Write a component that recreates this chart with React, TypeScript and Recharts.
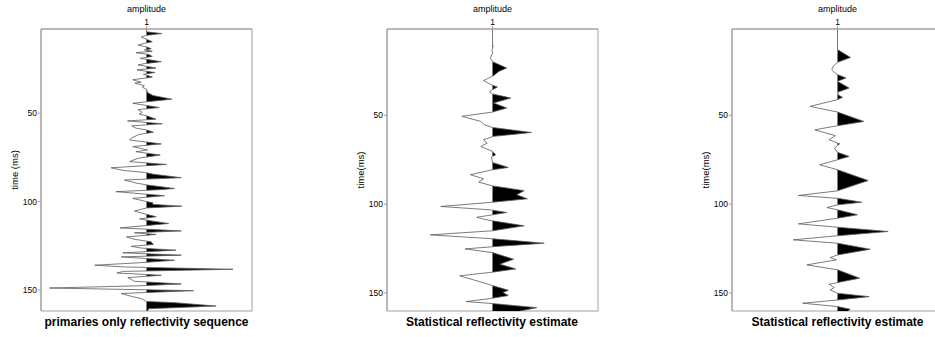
import { ComposedChart, Line, Area, XAxis, YAxis, ReferenceArea } from "recharts";

// panel 1: primaries only reflectivity (time in ms, amplitude as fraction of half panel width)
const p1Times = [
  2.4, 4, 5, 6, 7, 8.5, 9.6, 10.5, 11.5, 12.5, 13.6, 14.2, 15, 15.8, 16.8, 17.9, 19, 20.9, 22, 22.7,
  24.5, 25.5, 27, 28, 29.6, 31.1, 32.5, 33, 34.5, 35.3, 36.5, 38.3, 40, 42.1, 43.5, 44.4, 46.8, 48,
  49.5, 50.5, 51.5, 53.4, 54.4, 56, 57.2, 58.5, 59.5, 60.8, 62, 64, 65.2, 66.5, 67.4, 68.9, 70.8,
  71.8, 73.7, 75.5, 77.4, 79, 80.9, 82.5, 83.5, 84.6, 86.5, 87.8, 89.5, 90.7, 92.6, 93.3, 94.4, 96.7,
  98.2, 100, 100.7, 101.6, 102.6, 103.6, 105.4, 106.7, 108.6, 109.8, 111.1, 112.4, 113.5, 114.9,
  116.6, 117.7, 118.6, 120, 121.3, 122.8, 124.3, 125.3, 126.3, 127.5, 129, 130.3, 131.3, 133.2,
  134.5, 136, 137, 138.3, 139.5, 140.4, 141.7, 143, 145.1, 146.6, 147.7, 148.9, 150.4, 152, 153.6,
  154.9, 156.5, 157.2, 159.1, 160.6, 161.9,
];
const p1Amps = [
  0, 0, 0.145, 0, -0.05, 0.01, 0.055, -0.02, -0.08, 0, 0.045, -0.02, 0.055, -0.1, 0.02, 0.055, -0.06,
  0.14, -0.02, -0.08, 0.09, -0.09, 0.08, -0.03, 0.055, -0.13, -0.05, -0.11, -0.02, -0.04, 0, 0.01,
  0.06, 0.24, 0.01, -0.13, 0.12, -0.08, -0.04, -0.07, 0, 0.09, -0.18, 0.15, -0.14, -0.1, 0, 0.066,
  -0.07, -0.14, -0.16, 0.02, 0.14, -0.13, 0.01, -0.1, 0.13, -0.08, -0.16, 0.19, -0.335, -0.21, -0.02,
  0.07, 0.33, -0.21, -0.1, 0.013, 0.265, 0.12, -0.29, 0.17, -0.13, 0, 0.06, 0.06, 0.335, 0, -0.114,
  -0.035, 0.092, -0.066, 0.06, 0.21, 0.01, -0.25, 0.33, -0.114, 0.092, -0.19, -0.12, 0.044, 0.066,
  -0.145, -0.05, 0.28, -0.224, 0.33, -0.24, 0.265, -0.035, -0.49, -0.2, 0.82, -0.22, -0.28, 0.14,
  -0.177, -0.114, 0.33, -0.1, -0.92, 0.445, -0.24, -0.145, -0.05, 0, 0.27, 0.66, 0.02, 0.01,
];

// panel 2: statistical estimate
const p2Times = [
  1.3, 9.2, 11.1, 13.3, 14.8, 17.6, 19.7, 23.3, 25.2, 27.6, 30.4, 32.1, 33, 34, 35.5, 36.6, 37.9,
  40.2, 43, 45.8, 48.1, 50.5, 53.4, 55.2, 56.8, 59.6, 61.8, 63.7, 65.6, 67.5, 70.3, 72.2, 73.5, 76.5,
  79.3, 80.6, 83.4, 85.7, 87.6, 89.7, 92.4, 94.7, 97, 98.9, 101.3, 103.2, 104.7, 106, 107.4, 108.5,
  109.4, 112.2, 115, 117.3, 119.5, 122, 123.9, 125.2, 127.3, 131, 133.8, 136.5, 138.3, 140.4, 143.7,
  145.9, 148.5, 149.8, 151.5, 153, 154.9, 156, 158.3, 160.2,
];
const p2Amps = [
  0, 0, 0.005, -0.005, 0.002, -0.02, 0, 0.135, 0.06, 0.01, -0.085, -0.03, 0, 0.047, 0, -0.03, 0,
  0.173, 0.01, 0.135, 0, -0.29, -0.11, -0.08, 0, 0.37, 0.01, -0.085, -0.05, -0.11, 0, 0.03, -0.01, 0,
  0.15, 0, -0.21, -0.085, -0.13, 0, 0.3, 0.23, 0.33, 0, -0.49, -0.02, 0.135, 0, -0.15, -0.08,
  0, 0.3, 0, -0.59, 0, 0.49, 0.02, -0.26, 0, 0.2, 0.07, 0.22, 0, -0.31, -0.12,
  0, 0.15, 0.1, 0.15, 0, -0.25, 0, 0.42, 0.26,
];

// panel 3: statistical estimate (second)
const p3Times = [
  1.3, 12.9, 17.3, 20.1, 22.3, 24.2, 25.7, 27, 28.9, 30.8, 34.6, 37, 38.3, 39.8, 41.1, 44.9, 48.1,
  53.4, 55.8, 58.1, 61.4, 63.7, 66, 68.4, 70.8, 73.1, 75, 77.8, 80.6, 86.7, 92.5, 95.1, 96.7, 98.9,
  100.4, 101.9, 103.2, 106, 107.9, 111.1, 113, 115.4, 117.8, 120.1, 122, 125.4, 128.6, 130.1, 131.4,
  134.2, 137, 141.7, 144.2, 145.1, 147, 148.3, 150.2, 152.1, 154, 155.8, 157.7, 159.2, 160.2,
];
const p3Amps = [
  0, 0, 0.123, 0, -0.04, -0.054, -0.03, 0, 0.08, 0, 0.11, 0, 0.005, 0.047, 0, -0.26, 0,
  0.25, 0, -0.215, -0.02, -0.08, 0.02, -0.03, 0, 0.11, 0, -0.17, 0, 0.29, 0, -0.37, 0, 0.23,
  0, -0.1, 0, 0.19, 0, -0.37, 0, 0.48, 0, -0.42, 0, 0.31, 0, -0.07, -0.01,
  -0.29, 0, 0.21, 0, -0.08, -0.03, -0.07, 0, 0.3, 0, -0.33, 0, 0.12, 0.1,
];

const timeTicks = [50, 100, 150];
const traceTicks = [1];

// trace sits at offset 1; fill column is the positive lobe, with zero crossings added so the fill meets the line
const buildRows = (times: number[], amps: number[]) => {
  const rows: { t: number; x: number; f: number }[] = [];
  for (let i = 0; i < times.length; i++) {
    const a = amps[i];
    rows.push({ t: times[i], x: 1 + a, f: 1 + Math.max(a, 0) });
    const b = amps[i + 1];
    if (b !== undefined && a * b < 0) {
      const tc = times[i] + ((times[i + 1] - times[i]) * a) / (a - b);
      rows.push({ t: tc, x: 1, f: 1 });
    }
  }
  return rows;
};

const GRAY = "#a0a0a0";

type PanelProps = {
  rows: { t: number; x: number; f: number }[];
  domain: [number, number];
  yLabel: string;
  title: string;
  left: number;
};

const Panel = ({ rows, domain, yLabel, title, left }: PanelProps) => (
  <div style={{ position: "absolute", left, top: 0, width: 346, height: 337 }}>
    <ComposedChart
      layout="vertical"
      width={346}
      height={337}
      data={rows}
      margin={{ top: 0, right: 94, bottom: 26, left: 0 }}
    >
      <XAxis
        type="number"
        orientation="top"
        domain={[0, 2]}
        ticks={traceTicks}
        allowDataOverflow
        height={29}
        tickSize={3}
        tickMargin={1}
        axisLine={{ stroke: GRAY }}
        tickLine={{ stroke: GRAY }}
        tick={{ fontSize: 8.5, fill: "#000" }}
        label={{ value: "amplitude", position: "insideTop", offset: 6, fontSize: 9, fill: "#000" }}
      />
      <YAxis
        type="number"
        dataKey="t"
        domain={domain}
        ticks={timeTicks}
        allowDataOverflow
        width={41}
        tickSize={3}
        tickMargin={1}
        axisLine={{ stroke: GRAY }}
        tickLine={{ stroke: GRAY }}
        tick={{ fontSize: 8.5, fill: "#000" }}
        label={{
          value: yLabel,
          angle: -90,
          position: "insideLeft",
          offset: 15,
          fontSize: 9.5,
          fill: "#000",
          style: { textAnchor: "middle" },
        }}
      />
      <ReferenceArea x1={0} x2={2} y1={domain[0]} y2={domain[1]} fill="none" stroke={GRAY} />
      <Area
        type="linear"
        dataKey="f"
        baseValue={1}
        stroke="none"
        fill="#000"
        fillOpacity={1}
        isAnimationActive={false}
      />
      <Line
        type="linear"
        dataKey="x"
        stroke="#5a5a5a"
        strokeWidth={0.8}
        dot={false}
        activeDot={false}
        isAnimationActive={false}
      />
    </ComposedChart>
    <div
      style={{
        position: "absolute",
        left: 0,
        width: 293,
        top: 315,
        textAlign: "center",
        fontWeight: "bold",
        fontSize: 12,
        lineHeight: "14px",
      }}
    >
      {title}
    </div>
  </div>
);

export default function App() {
  return (
    <div
      style={{
        position: "absolute",
        left: 0,
        top: 0,
        width: 935,
        height: 337,
        overflow: "hidden",
        background: "#fff",
        fontFamily: "'Liberation Sans', Arial, sans-serif",
      }}
    >
      <Panel
        rows={buildRows(p1Times, p1Amps)}
        domain={[2.4, 161.9]}
        yLabel="time (ms)"
        title="primaries only reflectivity sequence"
        left={0}
      />
      <Panel
        rows={buildRows(p2Times, p2Amps)}
        domain={[1.3, 160.2]}
        yLabel="time(ms)"
        title="Statistical reflectivity estimate"
        left={345.5}
      />
      <Panel
        rows={buildRows(p3Times, p3Amps)}
        domain={[1.3, 160.2]}
        yLabel="time(ms)"
        title="Statistical reflectivity estimate"
        left={691}
      />
    </div>
  );
}
